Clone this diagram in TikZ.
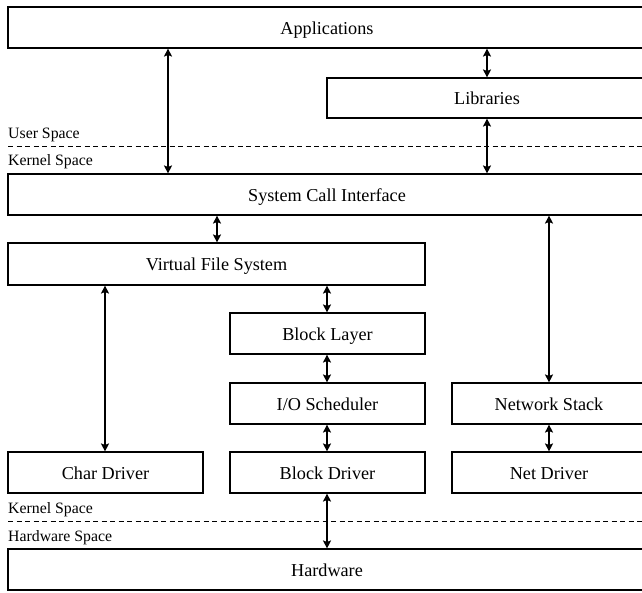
\documentclass[tikz,border=0pt]{standalone}
\usepackage{fontspec}
\setmainfont{Liberation Serif}
\usetikzlibrary{arrows.meta}
\begin{document}
\begin{tikzpicture}[x=1pt,y=-1pt,
  box/.style={draw, line width=1.1pt, rectangle, inner sep=0pt, text height=14pt, text depth=0.5pt, font=\fontsize{18.2}{20}\selectfont},
  wide/.style={box, minimum width=638pt, minimum height=41pt},
  half/.style={box, minimum width=195pt, minimum height=41pt},
  lbl/.style={anchor=west, inner sep=0pt, text height=10pt, text depth=0pt, font=\fontsize{15.8}{18}\selectfont},
  sep/.style={line width=0.9pt, dash pattern=on 5pt off 3.5pt},
  arr/.style={line width=1.2pt, {Stealth[length=8pt,width=8pt,inset=1.5pt]}-{Stealth[length=8pt,width=8pt,inset=1.5pt]}}
]
\useasboundingbox (0,0) rectangle (642,592);
\node[wide] (app) at (327,27.5) {Applications};
\node[box, minimum width=320pt, minimum height=40pt] (lib) at (487,98) {Libraries};
\node[wide] (sci) at (327,194.5) {System Call Interface};
\node[box, minimum width=417pt, minimum height=42pt] (vfs) at (216.5,264) {Virtual File System};
\node[half] (bl) at (327.5,333.5) {Block Layer};
\node[half] (ios) at (327.5,403.5) {I/O Scheduler};
\node[box, minimum width=194pt, minimum height=41pt] (ns) at (549,403.5) {Network Stack};
\node[half] (cd) at (105.5,472.5) {Char Driver};
\node[half] (bd) at (327.5,472.5) {Block Driver};
\node[box, minimum width=194pt, minimum height=41pt] (nd) at (549,472.5) {Net Driver};
\node[wide] (hw) at (327,569.5) {Hardware};

\node[lbl] (us) at (8,133) {User Space};
\node[lbl] (ks1) at (8,160) {Kernel Space};
\coordinate (d1a) at (8,146);
\coordinate (d1b) at (642,146);
\draw[sep] (d1a) -- (d1b);
\node[lbl] (ks2) at (8,508) {Kernel Space};
\node[lbl] (hs) at (8,536) {Hardware Space};
\coordinate (d2a) at (8,521);
\coordinate (d2b) at (642,521);
\draw[sep] (d2a) -- (d2b);

\coordinate (xa) at (168,0);
\coordinate (xb) at (487,0);
\coordinate (xc) at (217,0);
\coordinate (xd) at (105,0);
\coordinate (xe) at (327,0);
\coordinate (xf) at (549,0);

\draw[arr] (app.south -| xa) -- (sci.north -| xa);
\draw[arr] (app.south -| xb) -- (lib.north -| xb);
\draw[arr] (lib.south -| xb) -- (sci.north -| xb);
\draw[arr] (sci.south -| xc) -- (vfs.north -| xc);
\draw[arr] (vfs.south -| xd) -- (cd.north -| xd);
\draw[arr] (vfs.south -| xe) -- (bl.north -| xe);
\draw[arr] (bl.south -| xe) -- (ios.north -| xe);
\draw[arr] (ios.south -| xe) -- (bd.north -| xe);
\draw[arr] (sci.south -| xf) -- (ns.north -| xf);
\draw[arr] (ns.south -| xf) -- (nd.north -| xf);
\draw[arr] (bd.south -| xe) -- (hw.north -| xe);
\end{tikzpicture}
\end{document}
